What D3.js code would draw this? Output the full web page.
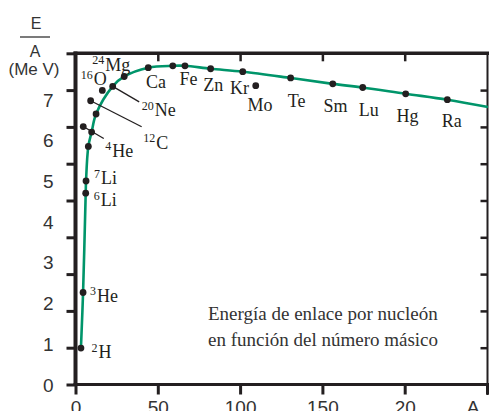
<!DOCTYPE html>
<html><head><meta charset="utf-8">
<script src="https://cdnjs.cloudflare.com/ajax/libs/d3/7.8.5/d3.min.js"></script>
<style>body{margin:0;background:#fff}svg{display:block}</style>
</head><body><svg id="c" width="489" height="411"></svg>
<script>
// ---- data ----
// green binding-energy curve (mass number A, E/A in MeV)
const curveA = [3.3, 4.6, 6.2, 6.4, 7.8, 9.8, 12.5, 22.6, 29.6, 44.2, 59.1, 66.5, 82.1, 101.6, 130.7, 156.3, 174.5, 200.6, 225.9, 250.6];
const curveE = [0.99, 2.50, 5.20, 5.53, 6.47, 6.86, 7.35, 8.10, 8.37, 8.61, 8.66, 8.66, 8.58, 8.50, 8.33, 8.17, 8.07, 7.90, 7.74, 7.54];
// nuclide dots
const nuclideSymbol = ["H","He","Li","Li","","","","He","C","O","Ne","Mg","Ca","","Fe","Zn","Kr","Mo","Te","Sm","Lu","Hg","Ra"];
const nuclideMass   = ["2","3","6","7","","","","4","12","16","20","24","","","","","","","","","","",""];
const nuclideA = [3.3, 4.6, 6.2, 6.4, 7.8, 9.8, 12.5, 4.7, 9.2, 16.3, 22.6, 29.6, 44.2, 59.1, 66.5, 82.1, 101.6, 109.5, 130.7, 156.3, 174.5, 200.6, 225.9];
const nuclideE = [0.99, 2.50, 5.20, 5.53, 6.47, 6.86, 7.35, 7.01, 7.71, 7.99, 8.10, 8.37, 8.61, 8.66, 8.66, 8.58, 8.50, 8.12, 8.33, 8.17, 8.07, 7.90, 7.74];
// axes
const xTickValues = [0, 50, 100, 150, 200];
const xTickLabels = ["0", "50", "100", "150", "20"];
const yTickValues = [0, 1, 2, 3, 4, 5, 6, 7, 8, 9];
const yLabelValues = [0, 1, 2, 3, 4, 5, 6, 7];
const noteLines = ["Energía de enlace por nucleón", "en función del número másico"];

// ---- layout (label offsets relative to dot, px) ----
const labelLayout = {
  0:{dx:10.5,dy:10,anchor:"start"}, 1:{dx:7,dy:9,anchor:"start"},
  2:{dx:8,dy:13,anchor:"start"}, 3:{dx:8,dy:3.5,anchor:"start"},
  7:{dx:22,dy:30,anchor:"start",lx:20.5,ly:12}, 8:{dx:52.5,dy:48,anchor:"start",lx:51,ly:26},
  9:{dx:4.5,dy:-5,anchor:"end"}, 10:{dx:29,dy:30,anchor:"start",lx:26.5,ly:15.5},
  11:{dx:6,dy:-5.5,anchor:"end"}, 12:{dx:7.7,dy:20,anchor:"middle"},
  14:{dx:3.5,dy:19,anchor:"middle"}, 15:{dx:2.7,dy:22.7,anchor:"middle"},
  16:{dx:-3.2,dy:22.6,anchor:"middle"}, 17:{dx:4.3,dy:25.7,anchor:"middle"},
  18:{dx:6,dy:29,anchor:"middle"}, 19:{dx:2.7,dy:27.7,anchor:"middle"},
  20:{dx:6.1,dy:28.3,anchor:"middle"}, 21:{dx:1.8,dy:28,anchor:"middle"},
  22:{dx:4.4,dy:27,anchor:"middle"}
};

const svg = d3.select("#c");
const ink = "#231f20";
const green = "#00956a";
const x = d3.scaleLinear().domain([0, 250]).range([75.5, 487]);
const y = d3.scaleLinear().domain([0, 9]).range([384.5, 53.3]);
const yLab = d3.scaleLinear().domain([0, 7]).range([385, 100]);

// ---- ticks ----
const gL = svg.append("g").attr("transform", "translate(75.5,0)")
  .call(d3.axisLeft(y).tickValues(yTickValues).tickSize(9).tickFormat(""));
gL.select(".domain").remove();
gL.selectAll("line").attr("stroke", ink).attr("stroke-width", 3);

const gR = svg.append("g").attr("transform", "translate(487.5,0)")
  .call(d3.axisLeft(y).tickValues(yTickValues.slice(1, 9)).tickSize(7).tickFormat(""));
gR.select(".domain").remove();
gR.selectAll("line").attr("stroke", ink).attr("stroke-width", 2.5).attr("x2", -7);

const gT = svg.append("g").attr("transform", "translate(0,53.3)")
  .call(d3.axisBottom(x).tickValues(xTickValues.slice(1)).tickSize(8).tickFormat(""));
gT.select(".domain").remove();
gT.selectAll("line").attr("stroke", ink).attr("stroke-width", 2.5);

const gB = svg.append("g").attr("transform", "translate(0,384.5)")
  .call(d3.axisBottom(x).tickValues(xTickValues.concat([250])).tickSize(10).tickPadding(6)
    .tickFormat((d, i) => i < xTickLabels.length ? xTickLabels[i] : ""));
gB.select(".domain").remove();
gB.selectAll("line").attr("stroke", ink).attr("stroke-width", 3);
gB.selectAll("text").attr("fill", "#333").style("font-family", "'Liberation Sans', Arial, sans-serif").style("font-size", "19px");

const gY = svg.append("g").attr("transform", "translate(75.5,0)")
  .call(d3.axisLeft(yLab).tickValues(yLabelValues).tickSize(0).tickPadding(22).tickFormat(d3.format("d")));
gY.select(".domain").remove();
gY.selectAll("text").attr("fill", "#333").style("font-family", "'Liberation Sans', Arial, sans-serif").style("font-size", "19px");

// ---- frame ----
svg.append("line").attr("x1", 75.5).attr("x2", 75.5).attr("y1", 51.5).attr("y2", 386).attr("stroke", ink).attr("stroke-width", 4);
svg.append("line").attr("x1", 73.5).attr("x2", 489).attr("y1", 53.3).attr("y2", 53.3).attr("stroke", ink).attr("stroke-width", 3.5);
svg.append("line").attr("x1", 73.5).attr("x2", 489).attr("y1", 384.5).attr("y2", 384.5).attr("stroke", ink).attr("stroke-width", 3);
svg.append("line").attr("x1", 487.5).attr("x2", 487.5).attr("y1", 52).attr("y2", 395).attr("stroke", ink).attr("stroke-width", 2);

// ---- curve ----
const curvePts = curveA.map((a, i) => [a, curveE[i]]);
svg.append("path").datum(curvePts)
  .attr("d", d3.line().x(d => x(d[0])).y(d => y(d[1])).curve(d3.curveCatmullRom.alpha(0.5)))
  .attr("fill", "none").attr("stroke", green).attr("stroke-width", 2.6);

// ---- leader lines ----
nuclideA.forEach((a, i) => {
  const L = labelLayout[i];
  if (L && L.lx !== undefined) {
    svg.append("line").attr("x1", x(a)).attr("y1", y(nuclideE[i]))
      .attr("x2", x(a) + L.lx).attr("y2", y(nuclideE[i]) + L.ly)
      .attr("stroke", ink).attr("stroke-width", 1.3);
  }
});

// ---- dots ----
svg.append("g").selectAll("circle").data(nuclideA).join("circle")
  .attr("cx", d => x(d)).attr("cy", (d, i) => y(nuclideE[i])).attr("r", 3.4).attr("fill", ink);

// ---- labels ----
const serif = "'Liberation Serif', 'DejaVu Serif', serif";
nuclideA.forEach((a, i) => {
  const L = labelLayout[i];
  if (!L || !nuclideSymbol[i]) return;
  const t = svg.append("text").attr("x", x(a) + L.dx).attr("y", y(nuclideE[i]) + L.dy)
    .attr("text-anchor", L.anchor).attr("fill", ink).style("font-family", serif);
  if (nuclideMass[i]) {
    t.append("tspan").attr("dy", -6.5).style("font-size", "12px").text(nuclideMass[i]);
    t.append("tspan").attr("dy", 6.5).attr("dx", 1).style("font-size", "18px").text(nuclideSymbol[i]);
  } else {
    t.append("tspan").style("font-size", "18px").text(nuclideSymbol[i]);
  }
});

// ---- note ----
svg.append("g").selectAll("text").data(noteLines).join("text")
  .attr("x", 208).attr("y", (d, i) => 320 + i * 26)
  .attr("fill", "#333").style("font-family", serif).style("font-size", "19px").text(d => d);

// ---- axis titles ----
const sans = "'Liberation Sans', Arial, sans-serif";
svg.append("text").attr("x", 36).attr("y", 28.5).attr("text-anchor", "middle").attr("fill", "#333")
  .style("font-family", sans).style("font-size", "16px").text("E");
svg.append("line").attr("x1", 20).attr("x2", 50).attr("y1", 37).attr("y2", 37).attr("stroke", "#333").attr("stroke-width", 1.3);
svg.append("text").attr("x", 35).attr("y", 56.7).attr("text-anchor", "middle").attr("fill", "#333")
  .style("font-family", sans).style("font-size", "16px").text("A");
svg.append("text").attr("x", 34).attr("y", 75).attr("text-anchor", "middle").attr("fill", "#333")
  .style("font-family", sans).style("font-size", "17px").text("(Me V)");
svg.append("text").attr("x", 473).attr("y", 414).attr("text-anchor", "middle").attr("fill", "#333")
  .style("font-family", sans).style("font-size", "19px").text("A");
</script></body></html>
